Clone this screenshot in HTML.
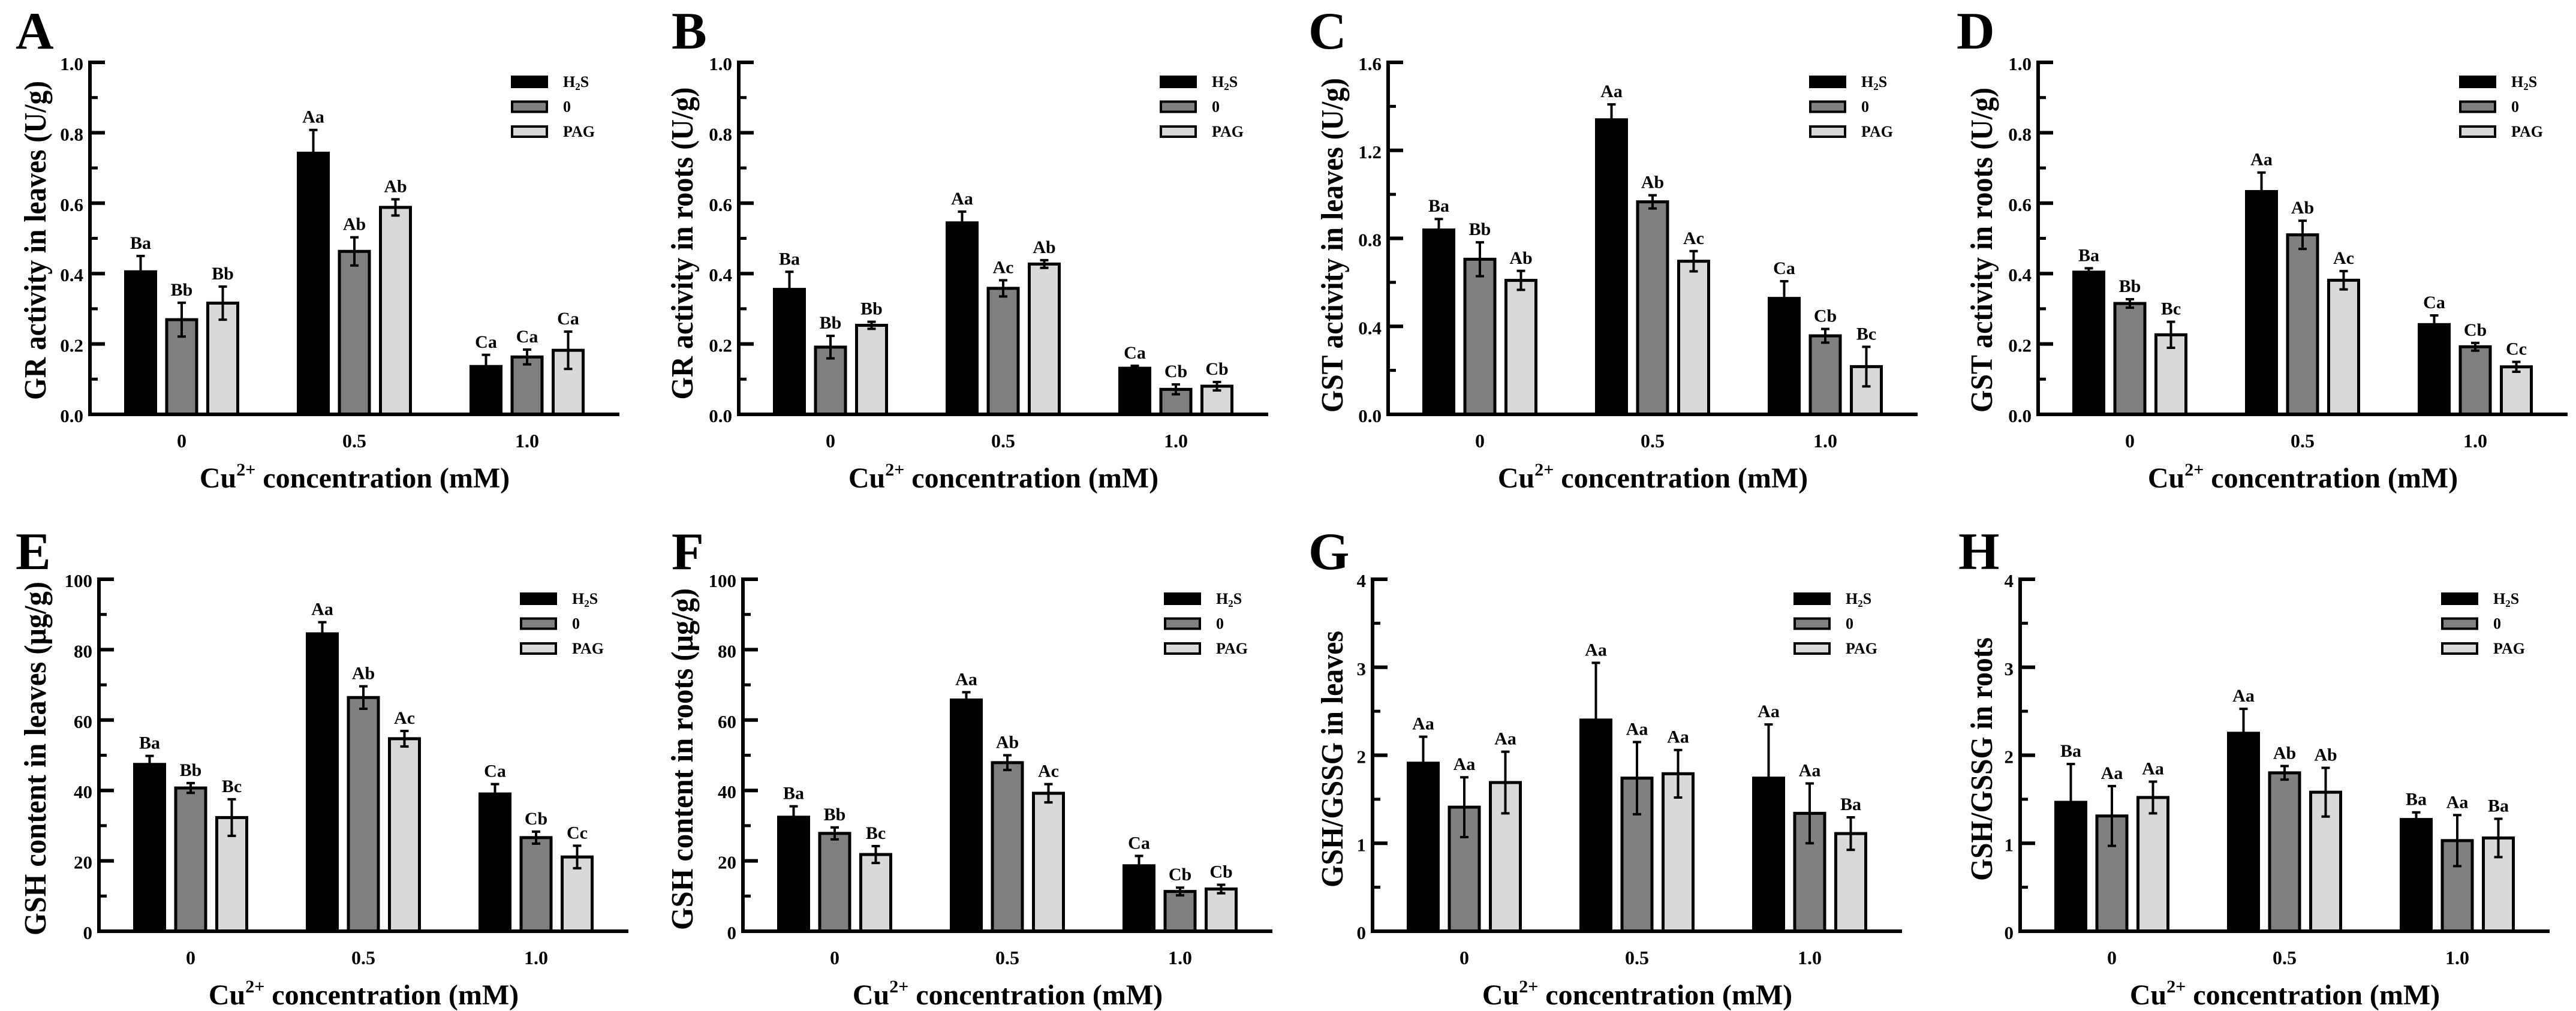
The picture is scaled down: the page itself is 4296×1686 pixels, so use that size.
<!DOCTYPE html>
<html>
<head>
<meta charset="utf-8">
<style>
  html, body { margin: 0; padding: 0; background: #fff; }
  svg { display: block; }
  text { font-family: "Liberation Serif", "DejaVu Serif", serif; font-weight: bold; fill: #000; }
</style>
</head>
<body>
<svg id="fig" xmlns="http://www.w3.org/2000/svg" width="4296" height="1686" viewBox="0 0 4296 1686"></svg>
<script>
// ---------- shared data ----------
const categories = ["0", "0.5", "1.0"];
const seriesNames = ["H2S", "0", "PAG"];

// Panel A: GR activity in leaves (U/g)
const A_h2s = [0.405, 0.742, 0.136];
const A_ctrl = [0.269, 0.463, 0.163];
const A_pag = [0.316, 0.588, 0.182];
const A_h2sErr = [0.045, 0.066, 0.033];
const A_ctrlErr = [0.048, 0.040, 0.021];
const A_pagErr = [0.047, 0.023, 0.053];
const A_letters = ["Ba", "Bb", "Bb", "Aa", "Ab", "Ab", "Ca", "Ca", "Ca"];
const A_ticks = ["0.0", "0.2", "0.4", "0.6", "0.8", "1.0"];

// Panel B: GR activity in roots (U/g)
const B_h2s = [0.355, 0.544, 0.131];
const B_ctrl = [0.191, 0.358, 0.071];
const B_pag = [0.253, 0.427, 0.080];
const B_h2sErr = [0.050, 0.032, 0.007];
const B_ctrlErr = [0.032, 0.023, 0.014];
const B_pagErr = [0.010, 0.011, 0.012];
const B_letters = ["Ba", "Bb", "Bb", "Aa", "Ac", "Ab", "Ca", "Cb", "Cb"];
const B_ticks = ["0.0", "0.2", "0.4", "0.6", "0.8", "1.0"];

// Panel C: GST activity in leaves (U/g)
const C_h2s = [0.838, 1.339, 0.527];
const C_ctrl = [0.705, 0.966, 0.357];
const C_pag = [0.609, 0.696, 0.217];
const C_h2sErr = [0.050, 0.070, 0.078];
const C_ctrlErr = [0.077, 0.030, 0.031];
const C_pagErr = [0.043, 0.046, 0.090];
const C_letters = ["Ba", "Bb", "Ab", "Aa", "Ab", "Ac", "Ca", "Cb", "Bc"];
const C_ticks = ["0.0", "0.4", "0.8", "1.2", "1.6"];

// Panel D: GST activity in roots (U/g)
const D_h2s = [0.404, 0.633, 0.255];
const D_ctrl = [0.315, 0.510, 0.192];
const D_pag = [0.226, 0.381, 0.135];
const D_h2sErr = [0.011, 0.054, 0.026];
const D_ctrlErr = [0.012, 0.040, 0.011];
const D_pagErr = [0.037, 0.026, 0.014];
const D_letters = ["Ba", "Bb", "Bc", "Aa", "Ab", "Ac", "Ca", "Cb", "Cc"];
const D_ticks = ["0.0", "0.2", "0.4", "0.6", "0.8", "1.0"];

// Panel E: GSH content in leaves (ug/g)
const E_h2s = [47.4, 84.5, 39.0];
const E_ctrl = [40.7, 66.4, 26.6];
const E_pag = [32.3, 54.7, 21.1];
const E_h2sErr = [2.4, 3.3, 2.8];
const E_ctrlErr = [1.4, 3.2, 1.7];
const E_pagErr = [5.2, 2.2, 3.2];
const E_letters = ["Ba", "Bb", "Bc", "Aa", "Ab", "Ac", "Ca", "Cb", "Cc"];
const E_ticks = ["0", "20", "40", "60", "80", "100"];

// Panel F: GSH content in roots (ug/g)
const F_h2s = [32.4, 65.7, 18.6];
const F_ctrl = [27.8, 47.9, 11.3];
const F_pag = [21.8, 39.2, 12.0];
const F_h2sErr = [3.1, 2.2, 2.8];
const F_ctrlErr = [1.7, 2.1, 1.1];
const F_pagErr = [2.4, 2.6, 1.2];
const F_letters = ["Ba", "Bb", "Bc", "Aa", "Ab", "Ac", "Ca", "Cb", "Cb"];
const F_ticks = ["0", "20", "40", "60", "80", "100"];

// Panel G: GSH/GSSG in leaves
const G_h2s = [1.91, 2.40, 1.74];
const G_ctrl = [1.41, 1.74, 1.34];
const G_pag = [1.69, 1.79, 1.11];
const G_h2sErr = [0.30, 0.65, 0.61];
const G_ctrlErr = [0.34, 0.41, 0.34];
const G_pagErr = [0.35, 0.27, 0.185];
const G_letters = ["Aa", "Aa", "Aa", "Aa", "Aa", "Aa", "Aa", "Aa", "Ba"];
const G_ticks = ["0", "1", "2", "3", "4"];

// Panel H: GSH/GSSG in roots
const H_h2s = [1.465, 2.25, 1.27];
const H_ctrl = [1.31, 1.80, 1.03];
const H_pag = [1.52, 1.58, 1.06];
const H_h2sErr = [0.435, 0.277, 0.081];
const H_ctrlErr = [0.34, 0.077, 0.29];
const H_pagErr = [0.18, 0.277, 0.218];
const H_letters = ["Ba", "Aa", "Aa", "Aa", "Ab", "Ab", "Ba", "Aa", "Ba"];
const H_ticks = ["0", "1", "2", "3", "4"];

// ---------- drawing ----------
const NS = "http://www.w3.org/2000/svg";
const svg = document.getElementById("fig");
const fills = ["#000000", "#808080", "#d9d9d9"];

function mk(tag, parent) {
  const e = document.createElementNS(NS, tag);
  parent.appendChild(e);
  return e;
}

function drawPanel(p) {
  const g = mk("g", svg);
  
  
  const W = 883;
  const x0 = p.ax, yTop = p.top, yZero = p.zero;
  const yScale = v => yZero - (v / p.max) * (yZero - yTop);
  const barX = (gi, k) => x0 + 57 + gi * 288 + k * 68.5;
  const bw = 55;

  // panel letter
  const L = mk("text", g);
  
  
  L.setAttribute("x", p.lx); L.setAttribute("y", p.ly);
  L.setAttribute("font-size", "88");
  L.textContent = p.id;

  // bars
  const series = [p.h2s, p.ctrl, p.pag];
  const errs = [p.h2sErr, p.ctrlErr, p.pagErr];
  for (let gi = 0; gi < categories.length; gi++) {
    for (let k = 0; k < 3; k++) {
      const v = series[k][gi], e = errs[k][gi];
      const bx = barX(gi, k), by = yScale(v);
      const r = mk("rect", g);
      
      
      r.setAttribute("x", bx + 2.5); r.setAttribute("y", by);
      r.setAttribute("width", bw - 5); r.setAttribute("height", Math.max(0, yZero - by));
      r.setAttribute("fill", fills[k]);
      r.setAttribute("stroke", "#000"); r.setAttribute("stroke-width", "5");
      const cx = bx + bw / 2;
      const eTop = yScale(v + e), eBot = yScale(v - e);
      const eb = mk("path", g);
      
      
      eb.setAttribute("d", `M${cx},${eTop}V${eBot}M${cx - 7},${eTop}H${cx + 7}M${cx - 7},${eBot}H${cx + 7}`);
      eb.setAttribute("stroke", "#000"); eb.setAttribute("stroke-width", "4"); eb.setAttribute("fill", "none");
      const t = mk("text", g);
      
      
      t.setAttribute("x", cx); t.setAttribute("y", eTop - 12);
      t.setAttribute("text-anchor", "middle"); t.setAttribute("font-size", "30");
      t.textContent = p.letters[gi * 3 + k];
    }
    const xt = mk("text", g);
    
    
    xt.setAttribute("x", x0 + 57 + gi * 288 + 96); xt.setAttribute("y", yZero + 55);
    xt.setAttribute("text-anchor", "middle"); xt.setAttribute("font-size", "32");
    xt.textContent = categories[gi];
  }

  // axes
  const ax = mk("path", g);
  
  
  ax.setAttribute("d", `M${x0},${yTop - 3}V${yZero}H${x0 + W}`);
  ax.setAttribute("stroke", "#000"); ax.setAttribute("stroke-width", "6"); ax.setAttribute("fill", "none");

  // y ticks
  const n = p.ticks.length - 1;
  for (let i = 0; i <= n; i++) {
    const y = yTop + (yZero - yTop) * (1 - i / n);
    if (i > 0) {
      const tk = mk("line", g);
      
      
      tk.setAttribute("x1", x0); tk.setAttribute("x2", x0 + 25);
      tk.setAttribute("y1", y); tk.setAttribute("y2", y);
      tk.setAttribute("stroke", "#000"); tk.setAttribute("stroke-width", "6");
    }
    if (i < n) {
      const ym = yTop + (yZero - yTop) * (1 - (i + 0.5) / n);
      const mt = mk("line", g);
      
      
      mt.setAttribute("x1", x0); mt.setAttribute("x2", x0 + 13);
      mt.setAttribute("y1", ym); mt.setAttribute("y2", ym);
      mt.setAttribute("stroke", "#000"); mt.setAttribute("stroke-width", "5");
    }
    const lb = mk("text", g);
    
    
    lb.setAttribute("x", x0 - 11); lb.setAttribute("y", y + 13);
    lb.setAttribute("text-anchor", "end"); lb.setAttribute("font-size", "31");
    lb.textContent = p.ticks[i];
  }

  // y title
  const yt = mk("text", g);
  
  
  const tx = p.tx + 16, ty = p.ty;
  yt.setAttribute("x", tx); yt.setAttribute("y", ty);
  yt.setAttribute("transform", `rotate(-90 ${tx} ${ty})`);
  yt.setAttribute("text-anchor", "middle"); yt.setAttribute("font-size", "52");
  yt.setAttribute("textLength", p.tlen); yt.setAttribute("lengthAdjust", "spacingAndGlyphs");
  yt.textContent = p.title;

  // x title
  const xtt = mk("text", g);
  
  
  xtt.setAttribute("x", x0 + W / 2); xtt.setAttribute("y", yZero + 122);
  xtt.setAttribute("text-anchor", "middle"); xtt.setAttribute("font-size", "48");
  xtt.innerHTML = 'Cu<tspan font-size="30" dy="-20">2+</tspan><tspan dy="20"> concentration (mM)</tspan>';

  // legend
  const labels = ["H", "0", "PAG"];
  for (let k = 0; k < 3; k++) {
    const lg = mk("g", g);
    
    
    const by = yTop + 22 + k * 41.5;
    const r = mk("rect", lg);
    r.setAttribute("x", x0 + 704); r.setAttribute("y", by + 2);
    r.setAttribute("width", 58); r.setAttribute("height", 17);
    r.setAttribute("fill", fills[k]); r.setAttribute("stroke", "#000"); r.setAttribute("stroke-width", "4");
    const t = mk("text", lg);
    t.setAttribute("x", x0 + 789); t.setAttribute("y", by + 19);
    t.setAttribute("font-size", "26");
    if (k === 0) t.innerHTML = 'H<tspan font-size="17" dy="5">2</tspan><tspan dy="-5">S</tspan>';
    else t.textContent = labels[k];
  }
}

const panels = [
  {id:"A", ax:150, top:104, zero:691, max:1.0, lx:26, ly:81, tx:60, ty:401, tlen:532, title:"GR activity in leaves (U/g)",
   h2s:A_h2s, ctrl:A_ctrl, pag:A_pag, h2sErr:A_h2sErr, ctrlErr:A_ctrlErr, pagErr:A_pagErr, letters:A_letters, ticks:A_ticks},
  {id:"B", ax:1232, top:104, zero:691, max:1.0, lx:1120, ly:81, tx:1139, ty:406, tlen:521, title:"GR activity in roots (U/g)",
   h2s:B_h2s, ctrl:B_ctrl, pag:B_pag, h2sErr:B_h2sErr, ctrlErr:B_ctrlErr, pagErr:B_pagErr, letters:B_letters, ticks:B_ticks},
  {id:"C", ax:2315, top:104, zero:691, max:1.6, lx:2182, ly:81, tx:2223, ty:409, tlen:558, title:"GST activity in leaves (U/g)",
   h2s:C_h2s, ctrl:C_ctrl, pag:C_pag, h2sErr:C_h2sErr, ctrlErr:C_ctrlErr, pagErr:C_pagErr, letters:C_letters, ticks:C_ticks},
  {id:"D", ax:3399, top:104, zero:691, max:1.0, lx:3263, ly:81, tx:3306, ty:417, tlen:542, title:"GST activity in roots (U/g)",
   h2s:D_h2s, ctrl:D_ctrl, pag:D_pag, h2sErr:D_h2sErr, ctrlErr:D_ctrlErr, pagErr:D_pagErr, letters:D_letters, ticks:D_ticks},
  {id:"E", ax:165, top:966, zero:1553, max:100, lx:26, ly:949, tx:60, ty:1265, tlen:590, title:"GSH content in leaves (μg/g)",
   h2s:E_h2s, ctrl:E_ctrl, pag:E_pag, h2sErr:E_h2sErr, ctrlErr:E_ctrlErr, pagErr:E_pagErr, letters:E_letters, ticks:E_ticks},
  {id:"F", ax:1239, top:966, zero:1553, max:100, lx:1120, ly:949, tx:1139, ty:1266, tlen:570, title:"GSH content in roots (μg/g)",
   h2s:F_h2s, ctrl:F_ctrl, pag:F_pag, h2sErr:F_h2sErr, ctrlErr:F_ctrlErr, pagErr:F_pagErr, letters:F_letters, ticks:F_ticks},
  {id:"G", ax:2289, top:966, zero:1553, max:4, lx:2182, ly:949, tx:2223, ty:1266, tlen:428, title:"GSH/GSSG in leaves",
   h2s:G_h2s, ctrl:G_ctrl, pag:G_pag, h2sErr:G_h2sErr, ctrlErr:G_ctrlErr, pagErr:G_pagErr, letters:G_letters, ticks:G_ticks},
  {id:"H", ax:3369, top:966, zero:1553, max:4, lx:3266, ly:949, tx:3306, ty:1266, tlen:406, title:"GSH/GSSG in roots",
   h2s:H_h2s, ctrl:H_ctrl, pag:H_pag, h2sErr:H_h2sErr, ctrlErr:H_ctrlErr, pagErr:H_pagErr, letters:H_letters, ticks:H_ticks}
];
panels.forEach(drawPanel);
</script>
</body>
</html>
